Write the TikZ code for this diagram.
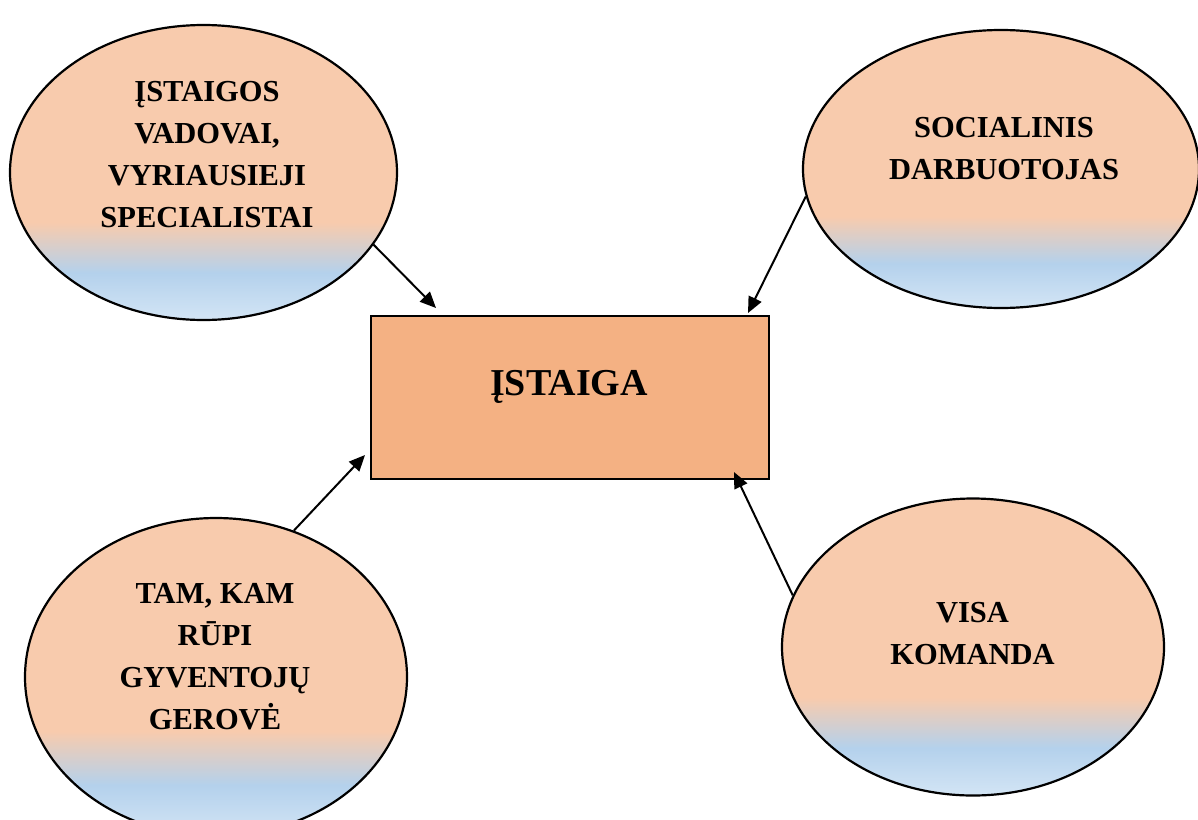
\documentclass[tikz,border=0pt]{standalone}
\usepackage{fontspec}
\setmainfont{Liberation Serif}
\usetikzlibrary{arrows.meta,shapes.geometric}
\definecolor{peach}{HTML}{F8CBAD}
\definecolor{skyb}{HTML}{B4D1EC}
\definecolor{paleb}{HTML}{D3E5F5}
\definecolor{boxfill}{HTML}{F4B183}
\pgfdeclareverticalshading{bubbleshade}{100bp}{color(0bp)=(paleb); color(25bp)=(paleb); color(33bp)=(skyb); color(41.5bp)=(peach); color(100bp)=(peach)}
\tikzset{
  bubble/.style={ellipse, draw, line width=2.2pt, shade, shading=bubbleshade, inner sep=0pt},
  lbl/.style={align=center, font=\fontsize{30.5}{42}\selectfont\bfseries, inner sep=0pt},
  arr/.style={line width=2pt, -{Triangle[length=16pt,width=14pt]}}
}
\begin{document}
\begin{tikzpicture}[x=1pt,y=-1pt]
\useasboundingbox (0,0) rectangle (1198,819);
\fill[white] (0,0) rectangle (1198,819);
\clip (0,0) rectangle (1198,819);
\node[bubble, minimum width=387pt, minimum height=295pt] (e1) at (203.5,172.5) {};
\node[bubble, minimum width=396pt, minimum height=278pt] (e2) at (1001,169) {};
\node[bubble, minimum width=382pt, minimum height=318pt] (e3) at (216,677) {};
\node[bubble, minimum width=382pt, minimum height=297pt] (e4) at (973,647) {};
\node[draw, fill=boxfill, line width=2.4pt, minimum width=398pt, minimum height=163pt, inner sep=0pt] (box) at (570,397.5) {};
\node[lbl] (t1) at (207,155) {ĮSTAIGOS\\VADOVAI,\\VYRIAUSIEJI\\SPECIALISTAI};
\node[lbl] (t2) at (1004,149) {SOCIALINIS\\DARBUOTOJAS};
\node[lbl] (t3) at (215,657) {TAM, KAM\\RŪPI\\GYVENTOJŲ\\GEROVĖ};
\node[lbl] (t4) at (972.5,634) {VISA\\KOMANDA};
\node[font=\fontsize{38}{46}\selectfont\bfseries, inner sep=0pt] (t0) at (569,387) {ĮSTAIGA};
\coordinate (p1) at (436,308);
\coordinate (p2) at (748,313);
\coordinate (p3) at (365,455);
\coordinate (p4) at (734,472);
\draw[arr] (e1.-23.3) -- (p1);
\draw[arr] (e2.188.4) -- (p2);
\draw[arr] (e3.62.8) -- (p3);
\draw[arr] (e4.164.1) -- (p4);
\end{tikzpicture}
\end{document}
